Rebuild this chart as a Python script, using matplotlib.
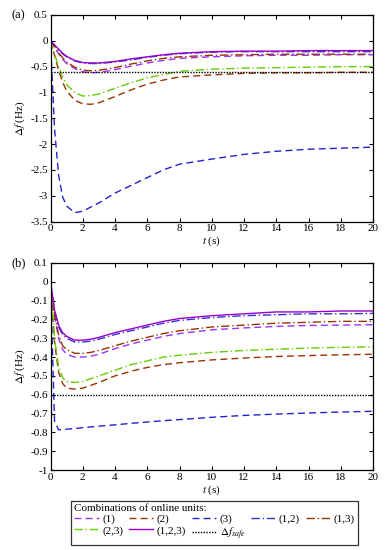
import numpy as np
import matplotlib
matplotlib.use("Agg")
import matplotlib.pyplot as plt

plt.rcParams['font.family'] = ['Liberation Serif', 'DejaVu Serif']
plt.rcParams['mathtext.fontset'] = 'stix'
plt.rcParams['font.size'] = 8

# ---------------- data ----------------
t = [0, 0.25, 0.5, 0.75, 1, 1.5, 2, 2.5, 3, 4, 5, 6, 7, 8, 10, 12, 14, 16, 18, 20]

# panel (a)
a_1   = [0, -0.12, -0.25, -0.36, -0.44, -0.54, -0.60, -0.62, -0.61, -0.56, -0.49, -0.43, -0.38, -0.34, -0.31, -0.29, -0.28, -0.28, -0.27, -0.27]
a_2   = [0, -0.28, -0.57, -0.80, -0.97, -1.15, -1.22, -1.23, -1.20, -1.08, -0.95, -0.84, -0.76, -0.70, -0.66, -0.63, -0.62, -0.62, -0.61, -0.61]
a_3   = [0, -1.70, -2.60, -3.02, -3.20, -3.33, -3.30, -3.22, -3.14, -2.95, -2.80, -2.65, -2.50, -2.39, -2.29, -2.20, -2.14, -2.10, -2.08, -2.06]
a_12  = [0, -0.09, -0.17, -0.25, -0.31, -0.39, -0.43, -0.44, -0.44, -0.41, -0.37, -0.32, -0.28, -0.25, -0.22, -0.21, -0.21, -0.21, -0.21, -0.21]
a_13  = [0, -0.11, -0.23, -0.33, -0.41, -0.51, -0.57, -0.58, -0.57, -0.52, -0.45, -0.39, -0.34, -0.31, -0.28, -0.27, -0.26, -0.26, -0.26, -0.26]
a_23  = [0, -0.25, -0.50, -0.70, -0.85, -1.00, -1.07, -1.06, -1.03, -0.92, -0.81, -0.72, -0.65, -0.59, -0.55, -0.53, -0.52, -0.51, -0.50, -0.50]
a_123 = [0, -0.08, -0.16, -0.24, -0.30, -0.38, -0.42, -0.43, -0.43, -0.40, -0.35, -0.31, -0.27, -0.24, -0.21, -0.20, -0.20, -0.19, -0.19, -0.19]
a_safe = -0.6

# panel (b)
b_1   = [0, -0.18, -0.30, -0.36, -0.385, -0.40, -0.40, -0.395, -0.385, -0.355, -0.33, -0.31, -0.29, -0.275, -0.255, -0.245, -0.237, -0.232, -0.230, -0.228]
b_2   = [0, -0.32, -0.48, -0.54, -0.565, -0.57, -0.565, -0.55, -0.535, -0.50, -0.475, -0.455, -0.44, -0.43, -0.415, -0.405, -0.397, -0.392, -0.388, -0.385]
b_3   = [0, -0.74, -0.786, -0.785, -0.783, -0.78, -0.775, -0.771, -0.767, -0.76, -0.752, -0.745, -0.738, -0.732, -0.72, -0.71, -0.703, -0.697, -0.692, -0.688]
b_12  = [0, -0.15, -0.24, -0.28, -0.30, -0.32, -0.32, -0.315, -0.305, -0.28, -0.26, -0.24, -0.22, -0.205, -0.19, -0.18, -0.175, -0.17, -0.17, -0.168]
b_13  = [0, -0.17, -0.28, -0.34, -0.36, -0.38, -0.38, -0.375, -0.365, -0.34, -0.315, -0.295, -0.275, -0.26, -0.24, -0.23, -0.22, -0.215, -0.21, -0.21]
b_23  = [0, -0.30, -0.45, -0.51, -0.53, -0.535, -0.53, -0.515, -0.50, -0.47, -0.44, -0.42, -0.40, -0.39, -0.375, -0.365, -0.358, -0.352, -0.348, -0.346]
b_123 = [0, -0.15, -0.23, -0.27, -0.29, -0.31, -0.31, -0.305, -0.295, -0.27, -0.25, -0.23, -0.21, -0.195, -0.18, -0.17, -0.16, -0.16, -0.155, -0.155]
b_safe = -0.6

labels = ['(1)', '(2)', '(3)', '(1,2)', '(1,3)', '(2,3)', '(1,2,3)', r'$\Delta f_{safe}$']
x_ticks = [0, 2, 4, 6, 8, 10, 12, 14, 16, 18, 20]
a_yticks = [0.5, 0, -0.5, -1, -1.5, -2, -2.5, -3, -3.5]
b_yticks = [0.1, 0, -0.1, -0.2, -0.3, -0.4, -0.5, -0.6, -0.7, -0.8, -0.9, -1]

# ---------------- styles ----------------
styles = [
    dict(color='#9933FF', ls=(0, (5, 3))),          # (1)
    dict(color='#993300', ls=(0, (5, 3))),          # (2)
    dict(color='#2222CC', ls=(0, (5, 3))),          # (3)
    dict(color='#3333CC', ls=(0, (6, 2, 1, 2))),    # (1,2)
    dict(color='#993300', ls=(0, (6, 2, 1, 2))),    # (1,3)
    dict(color='#66CC00', ls=(0, (6, 2, 1, 2))),    # (2,3)
    dict(color='#9900CC', ls='-'),                  # (1,2,3)
]

fig = plt.figure(figsize=(3.91, 5.5), dpi=100)
W, H = 391, 550
def ax_rect(l, r, top, bot):
    return [l / W, 1 - bot / H, (r - l) / W, (bot - top) / H]

ax_a = fig.add_axes(ax_rect(50.5, 373, 15, 221.5))
ax_b = fig.add_axes(ax_rect(50.5, 373, 263, 470))

handles = []
for ax, series, safe, yt, tag in [
    (ax_a, [a_1, a_2, a_3, a_12, a_13, a_23, a_123], a_safe, a_yticks, '(a)'),
    (ax_b, [b_1, b_2, b_3, b_12, b_13, b_23, b_123], b_safe, b_yticks, '(b)'),
]:
    hs = []
    for s, st, lab in zip(series, styles, labels):
        h, = ax.plot(t, s, lw=1.0, label=lab, **st)
        hs.append(h)
    h, = ax.plot([0, 20], [safe, safe], color='black', lw=1.0, ls=(0, (1, 1)), label=labels[-1])
    hs.append(h)
    handles = hs
    ax.set_xlim(0, 20)
    ax.set_ylim(min(yt), max(yt))
    ax.set_xticks(x_ticks)
    ax.set_yticks(yt)
    ax.set_yticklabels([('%g' % v) for v in yt])
    ax.tick_params(direction='in', top=True, right=True, length=3, width=0.8,
                   labelsize=8, pad=2)
    for sp in ax.spines.values():
        sp.set_linewidth(0.9)
    ax.set_xlabel(r'$t$ (s)', fontsize=8, labelpad=1)
    ax.set_ylabel(r'$\Delta f$ (Hz)', fontsize=8, labelpad=2)
    ax.text(12 / W, ax.get_position().y1, tag, transform=fig.transFigure,
            fontsize=9, ha='left', va='center')

order = [0, 5, 1, 6, 2, 7, 3, 4]
leg = fig.legend([handles[i] for i in order], [labels[i] for i in order],
                 ncol=5, loc='lower left',
                 bbox_to_anchor=(71 / W, 1 - 545 / H, (358 - 71) / W, (545 - 499) / H),
                 mode='expand', fontsize=8, title='Combinations of online units:',
                 title_fontsize=8, alignment='left', frameon=True, fancybox=False,
                 edgecolor='black', handlelength=2.2, handletextpad=0.3,
                 columnspacing=0.8, borderpad=0.3, labelspacing=0.1, borderaxespad=0)
leg.get_frame().set_linewidth(0.9)

fig.savefig('out.png', dpi=100)
